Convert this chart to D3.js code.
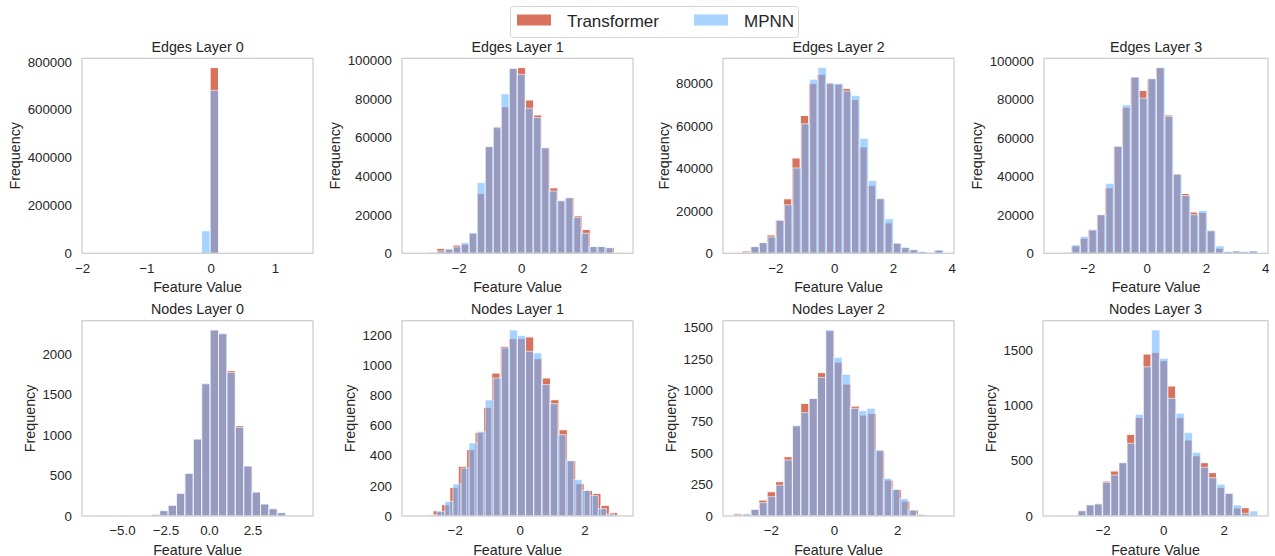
<!DOCTYPE html>
<html>
<head>
<meta charset="utf-8">
<script src="https://cdn.jsdelivr.net/npm/d3@7"></script>
<style>
    body { margin: 0; background: #ffffff; }
    text { font-family: "Liberation Sans", Arial, sans-serif; fill: #262626; }
</style>
</head>
<body>
<svg id="chart" width="1275" height="556"></svg>
<script>

// ---- data ----
var panelTitles = ["Edges Layer 0", "Edges Layer 1", "Edges Layer 2", "Edges Layer 3",
    "Nodes Layer 0", "Nodes Layer 1", "Nodes Layer 2", "Nodes Layer 3"];

var seriesNames = ["Transformer", "MPNN"];

// [min, max] of the binned values, one pair per panel
var transformerRanges = [[-1.837, 1.43], [-3.48, 3.25], [-3.42, 3.68], [-3.12, 3.72],
    [-6.69, 5.38], [-2.927, 3.025], [-3.18, 3.46], [-3.625, 3.105]];
var mpnnRanges = [[-1.837, 1.43], [-3.2, 3.2], [-3.39, 3.72], [-3.09, 3.75],
    [-6.69, 5.38], [-3.30, 3.17], [-3.14, 3.385], [-3.61, 3.12]];

// histogram counts, one array per panel
var transformerCounts = [
    [0, 0, 0, 0, 0, 0, 0, 0, 0, 0, 0, 0, 0, 0, 776000, 0, 0, 0, 0, 0, 0, 0, 0, 0, 0],
    [50, 100, 700, 2600, 2250, 4300, 4700, 10500, 31100, 55400, 65700, 76100, 96000, 96400, 79600, 71800,
        54800, 34000, 27300, 28900, 19500, 12400, 3500, 3500, 3000, 600],
    [50, 1100, 3150, 5050, 8680, 15800, 25720, 44970, 65000, 80160, 84420, 80500, 79800, 77800, 72590,
        50180, 32030, 26000, 14360, 4900, 2900, 1740, 790, 470, 1500],
    [100, 600, 3840, 7850, 12200, 20070, 34030, 55800, 75900, 91600, 84630, 90740, 96500, 71900, 41500,
        31060, 21460, 21290, 12000, 2620, 870, 1220, 870, 1220],
    [1, 0, 0, 0, 0, 0, 0, 20, 66, 132, 280, 527, 950, 1630, 2296, 2247, 1794, 1115, 617, 296, 148, 90, 41, 5, 1],
    [5, 35, 75, 190, 330, 440, 555, 720, 948, 1125, 1176, 1176, 1187, 1043, 915, 771, 572, 367, 214, 170,
        150, 71, 22],
    [21, 16, 53, 127, 193, 273, 472, 718, 896, 935, 1140, 1473, 1224, 1049, 874, 803, 816, 519, 286, 212,
        119, 48, 13, 3, 1],
    [1, 0, 0, 48, 105, 115, 316, 407, 482, 738, 892, 1464, 1479, 1404, 1175, 889, 687, 545, 482, 392, 259,
        205, 72, 75, 10]
];
var mpnnCounts = [
    [0, 0, 0, 0, 0, 0, 0, 0, 0, 0, 0, 0, 0, 93700, 681000, 0, 0, 0, 0, 0, 0, 0, 0, 0, 0],
    [100, 500, 1200, 2250, 3300, 5500, 10550, 36700, 55400, 65200, 82700, 96000, 92900, 75300, 70400,
        54800, 32300, 27300, 28900, 18700, 10400, 3500, 3500, 2900, 200],
    [50, 500, 3150, 5050, 7730, 15460, 22880, 40240, 61070, 82060, 87580, 80000, 80000, 76530, 74320,
        54130, 34240, 25720, 16250, 4730, 2680, 1740, 790, 470, 1580],
    [50, 350, 4360, 8730, 12200, 20070, 36300, 55490, 77130, 91600, 80620, 90740, 96500, 71200, 41000,
        30010, 20070, 22160, 11690, 3840, 870, 1220, 870, 1220],
    [1, 0, 0, 0, 0, 0, 0, 20, 66, 132, 280, 527, 950, 1638, 2296, 2255, 1770, 1095, 617, 296, 148, 90, 41, 5, 1],
    [2, 3, 8, 31, 97, 212, 318, 484, 561, 769, 915, 1114, 1233, 1196, 1092, 1081, 871, 745, 539, 367, 241,
        170, 135, 49, 13, 3],
    [10, 16, 53, 106, 154, 246, 445, 718, 822, 935, 1102, 1479, 1261, 1126, 856, 837, 856, 525, 300, 212,
        138, 48, 13, 3, 1],
    [1, 0, 0, 48, 99, 108, 304, 370, 482, 657, 919, 1349, 1681, 1425, 1063, 928, 753, 575, 440, 346, 286,
        205, 99, 24, 45]
];

var xTickValues = [[-2, -1, 0, 1], [-2, 0, 2], [-2, 0, 2, 4], [-2, 0, 2, 4],
    [-5, -2.5, 0, 2.5], [-2, 0, 2], [-2, 0, 2], [-2, 0, 2]];
var yTickValues = [
    [0, 200000, 400000, 600000, 800000],
    [0, 20000, 40000, 60000, 80000, 100000],
    [0, 20000, 40000, 60000, 80000],
    [0, 20000, 40000, 60000, 80000, 100000],
    [0, 500, 1000, 1500, 2000],
    [0, 200, 400, 600, 800, 1000, 1200],
    [0, 250, 500, 750, 1000, 1250, 1500],
    [0, 500, 1000, 1500]
];

// ---- layout ----
var frames = [
    {left: 82, right: 313, top: 58.3, bottom: 253.3},
    {left: 402, right: 633, top: 58.3, bottom: 253.3},
    {left: 723, right: 954, top: 58.3, bottom: 253.3},
    {left: 1044, right: 1268, top: 58.3, bottom: 253.3},
    {left: 82, right: 313, top: 320.7, bottom: 516},
    {left: 402, right: 633, top: 320.7, bottom: 516},
    {left: 723, right: 954, top: 320.7, bottom: 516},
    {left: 1043, right: 1268, top: 320.7, bottom: 516}
];

var transformerColor = "#d9725c";
var mpnnColor = "#6eb6ff";
var mpnnAlpha = 0.6;
var tickFontSize = "13.3px";
var labelFontSize = "14.3px";

var svg = d3.select("#chart");


function MakeBins(range, counts) {
    var w = (range[1] - range[0]) / counts.length;
    return counts.map(function(c, i) {
        return {x0: range[0] + i * w, x1: range[0] + (i + 1) * w, count: c};
    });
}


function DrawPanel(p) {
    var f = frames[p];
    var g = svg.append("g").attr("class", "panel");

    var lo = Math.min(transformerRanges[p][0], mpnnRanges[p][0]);
    var hi = Math.max(transformerRanges[p][1], mpnnRanges[p][1]);
    var pad = 0.05 * (hi - lo);

    var x = d3.scaleLinear().domain([lo - pad, hi + pad]).range([f.left, f.right]);
    var yMax = d3.max(transformerCounts[p].concat(mpnnCounts[p])) * 1.05;
    var y = d3.scaleLinear().domain([0, yMax]).range([f.bottom, f.top]);

    var layers = [
        {bins: MakeBins(transformerRanges[p], transformerCounts[p]), fill: transformerColor, alpha: 1},
        {bins: MakeBins(mpnnRanges[p], mpnnCounts[p]), fill: mpnnColor, alpha: mpnnAlpha}
    ];

    layers.forEach(function(layer) {
        g.append("g")
            .selectAll("rect")
            .data(layer.bins)
            .enter().append("rect")
            .attr("x", function(d) { return x(d.x0); })
            .attr("width", function(d) { return x(d.x1) - x(d.x0); })
            .attr("y", function(d) { return y(d.count); })
            .attr("height", function(d) { return y(0) - y(d.count); })
            .attr("fill", layer.fill)
            .attr("fill-opacity", layer.alpha)
            .attr("stroke", "#ffffff")
            .attr("stroke-opacity", layer.alpha)
            .attr("stroke-width", 1);
    });

    // frame
    g.append("rect")
        .attr("x", f.left)
        .attr("y", f.top)
        .attr("width", f.right - f.left)
        .attr("height", f.bottom - f.top)
        .attr("fill", "none")
        .attr("stroke", "#cccccc")
        .attr("stroke-width", 1.25);

    var xIsDecimal = xTickValues[p].some(function(v) { return v !== Math.round(v); });
    var xAxis = d3.axisBottom(x)
        .tickValues(xTickValues[p])
        .tickSize(0)
        .tickPadding(10)
        .tickFormat(d3.format(xIsDecimal ? ".1f" : "d"));

    var gx = g.append("g")
        .attr("transform", "translate(0," + f.bottom + ")")
        .call(xAxis);
    gx.select(".domain").remove();
    gx.attr("font-size", null).attr("font-family", null);
    gx.selectAll("text").style("font-size", tickFontSize);

    var yAxis = d3.axisLeft(y)
        .tickValues(yTickValues[p])
        .tickSize(0)
        .tickPadding(10)
        .tickFormat(d3.format("d"));

    var gy = g.append("g")
        .attr("transform", "translate(" + f.left + ",0)")
        .call(yAxis);
    gy.select(".domain").remove();
    gy.attr("font-size", null).attr("font-family", null);
    gy.selectAll("text").style("font-size", tickFontSize);

    var maxTickWidth = 0;
    gy.selectAll("text").each(function() {
        maxTickWidth = Math.max(maxTickWidth, this.getBBox().width);
    });

    // title
    g.append("text")
        .attr("x", (f.left + f.right) / 2)
        .attr("y", f.top - 6.6)
        .attr("text-anchor", "middle")
        .style("font-size", labelFontSize)
        .text(panelTitles[p]);

    // x label
    g.append("text")
        .attr("x", (f.left + f.right) / 2)
        .attr("y", f.bottom + 38.5)
        .attr("text-anchor", "middle")
        .style("font-size", labelFontSize)
        .text("Feature Value");

    // y label
    var ylx = f.left - 10 - maxTickWidth - 7.5;
    g.append("text")
        .attr("transform", "translate(" + ylx + "," + ((f.top + f.bottom) / 2) + ") rotate(-90)")
        .attr("text-anchor", "middle")
        .style("font-size", labelFontSize)
        .text("Frequency");
}


function DrawLegend() {
    var lg = svg.append("g").attr("class", "legend");
    lg.append("rect")
        .attr("x", 510.5)
        .attr("y", 6.5)
        .attr("width", 288)
        .attr("height", 31)
        .attr("rx", 3)
        .attr("fill", "#ffffff")
        .attr("stroke", "#d6d6d6")
        .attr("stroke-width", 1);

    var items = [
        {name: seriesNames[0], fill: transformerColor, alpha: 1, x: 517},
        {name: seriesNames[1], fill: mpnnColor, alpha: mpnnAlpha, x: 694}
    ];
    items.forEach(function(it) {
        lg.append("rect")
            .attr("x", it.x)
            .attr("y", 14.5)
            .attr("width", 34)
            .attr("height", 11)
            .attr("fill", it.fill)
            .attr("fill-opacity", it.alpha);
        lg.append("text")
            .attr("x", it.x + 50)
            .attr("y", 26.5)
            .style("font-size", "17px")
            .text(it.name);
    });
}


panelTitles.forEach(function(t, p) {
    DrawPanel(p);
});
DrawLegend();

</script>
</body>
</html>
